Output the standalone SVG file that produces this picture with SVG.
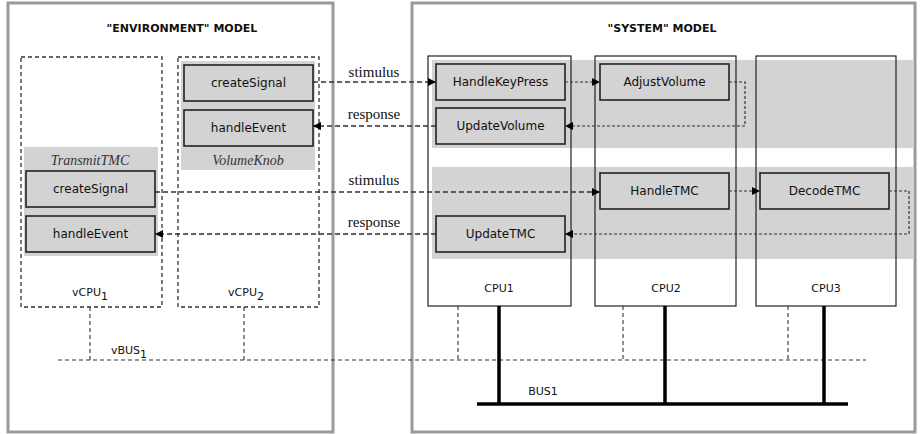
<svg xmlns="http://www.w3.org/2000/svg" width="920" height="434" viewBox="0 0 920 434">
<defs>
<marker id="arr" viewBox="0 0 10 10" refX="10" refY="5" markerWidth="8" markerHeight="8" markerUnits="userSpaceOnUse" orient="auto"><path d="M0,0 L10,5 L0,10 z" fill="#000"/></marker>
<style>
.outer{fill:#fff;stroke:#9a9a9a;stroke-width:3}
.vcpu{fill:none;stroke:#333;stroke-width:1.3;stroke-dasharray:4,3}
.cpu{fill:none;stroke:#222;stroke-width:1.2}
.band{fill:#d3d3d3}
.box{fill:#d3d3d3;stroke:#222;stroke-width:1.6}
.t{font-family:"DejaVu Sans",Verdana,sans-serif;font-size:12px;fill:#111;text-anchor:middle}
.s{font-family:"DejaVu Sans",Verdana,sans-serif;font-size:11px;fill:#111;text-anchor:middle}
.title{font-family:"DejaVu Sans",Verdana,sans-serif;font-size:11px;font-weight:bold;fill:#111;text-anchor:middle}
.it{font-family:"Liberation Serif","Times New Roman",serif;font-size:14px;font-style:italic;fill:#333;text-anchor:middle}
.lbl{font-family:"Liberation Serif","Times New Roman",serif;font-size:15px;fill:#111;text-anchor:middle}
.dl{fill:none;stroke:#333;stroke-width:1.3;stroke-dasharray:5,3}
.dd{fill:none;stroke:#333;stroke-width:1.2;stroke-dasharray:3,2}
.vb{fill:none;stroke:#333;stroke-width:1.1;stroke-dasharray:4,3}
.bus{fill:none;stroke:#000;stroke-width:3.5}
</style>
</defs>
<rect x="0" y="0" width="920" height="434" fill="#fff"/>
<g id="environment">
<rect class="outer" x="8" y="3" width="325" height="429"/>
<text class="title" x="182" y="32">"ENVIRONMENT" MODEL</text>
</g>
<g id="system">
<rect class="outer" x="412" y="3" width="503" height="429"/>
<text class="title" x="662" y="32">"SYSTEM" MODEL</text>
</g>
<g id="bands">
<rect class="band" x="432" y="60" width="482" height="88"/>
<rect class="band" x="432" y="167" width="482" height="92"/>
</g>
<g id="vCPU1">
<rect class="vcpu" x="21" y="57" width="141" height="250"/>
<text class="s" x="90" y="296">vCPU<tspan dy="4" font-size="11">1</tspan></text>
</g>
<g id="vCPU2">
<rect class="vcpu" x="178" y="57" width="141" height="250"/>
<text class="s" x="246" y="296">vCPU<tspan dy="4" font-size="11">2</tspan></text>
</g>
<g id="VolumeKnob">
<rect class="band" x="181" y="61" width="134" height="109"/>
<rect class="box" x="184" y="65" width="129" height="36"/>
<text class="t" x="248.5" y="87">createSignal</text>
<rect class="box" x="184" y="110" width="129" height="36"/>
<text class="t" x="248.5" y="132">handleEvent</text>
<text class="it" x="248" y="165">VolumeKnob</text>
</g>
<g id="TransmitTMC">
<rect class="band" x="24" y="147" width="134" height="109"/>
<text class="it" x="90" y="165">TransmitTMC</text>
<rect class="box" x="26" y="171" width="129" height="36"/>
<text class="t" x="90.5" y="193">createSignal</text>
<rect class="box" x="26" y="216" width="129" height="36"/>
<text class="t" x="90.5" y="238">handleEvent</text>
</g>
<g id="CPU1">
<rect class="cpu" x="428" y="56" width="143" height="250"/>
<text class="s" x="499" y="292">CPU1</text>
</g>
<g id="CPU2">
<rect class="cpu" x="595" y="56" width="141" height="250"/>
<text class="s" x="666" y="292">CPU2</text>
</g>
<g id="CPU3">
<rect class="cpu" x="756" y="56" width="140" height="250"/>
<text class="s" x="826" y="292">CPU3</text>
</g>
<g id="HandleKeyPress">
<rect class="box" x="436" y="64" width="129" height="36"/>
<text class="t" x="500.5" y="86">HandleKeyPress</text>
</g>
<g id="UpdateVolume">
<rect class="box" x="436" y="108" width="129" height="36"/>
<text class="t" x="500.5" y="130">UpdateVolume</text>
</g>
<g id="AdjustVolume">
<rect class="box" x="600" y="64" width="129" height="36"/>
<text class="t" x="664.5" y="86">AdjustVolume</text>
</g>
<g id="HandleTMC">
<rect class="box" x="600" y="173" width="129" height="36"/>
<text class="t" x="664.5" y="195">HandleTMC</text>
</g>
<g id="DecodeTMC">
<rect class="box" x="760" y="173" width="129" height="36"/>
<text class="t" x="824.5" y="195">DecodeTMC</text>
</g>
<g id="UpdateTMC">
<rect class="box" x="436" y="216" width="129" height="36"/>
<text class="t" x="500.5" y="238">UpdateTMC</text>
</g>
<g id="vBUS1">
<path class="vb" d="M58,360 H866"/>
<text class="s" x="129" y="354">vBUS<tspan dy="4" font-size="11">1</tspan></text>
</g>
<g id="BUS1">
<path class="bus" d="M477,404 H848"/>
<text class="s" x="543" y="395">BUS1</text>
</g>
<g id="connectors">
<path class="vb" d="M90,307 V360 M244,307 V360 M458,306 V360 M623,306 V360 M788,306 V360"/>
<path class="bus" d="M499,306 V404 M665,306 V404 M824,306 V404"/>
<path class="dl" d="M313,82 H436" marker-end="url(#arr)"/>
<text class="lbl" x="374" y="77">stimulus</text>
<path class="dd" d="M565,82 H600" marker-end="url(#arr)"/>
<path class="dd" d="M729,82 H745 V126 H565" marker-end="url(#arr)"/>
<path class="dl" d="M436,126 H313" marker-end="url(#arr)"/>
<text class="lbl" x="374" y="119">response</text>
<path class="dl" d="M155,192 H600" marker-end="url(#arr)"/>
<text class="lbl" x="374" y="185">stimulus</text>
<path class="dd" d="M729,191 H760" marker-end="url(#arr)"/>
<path class="dd" d="M889,191 H909 V234 H565" marker-end="url(#arr)"/>
<path class="dl" d="M436,234 H155" marker-end="url(#arr)"/>
<text class="lbl" x="374" y="227">response</text>
</g>
</svg>
